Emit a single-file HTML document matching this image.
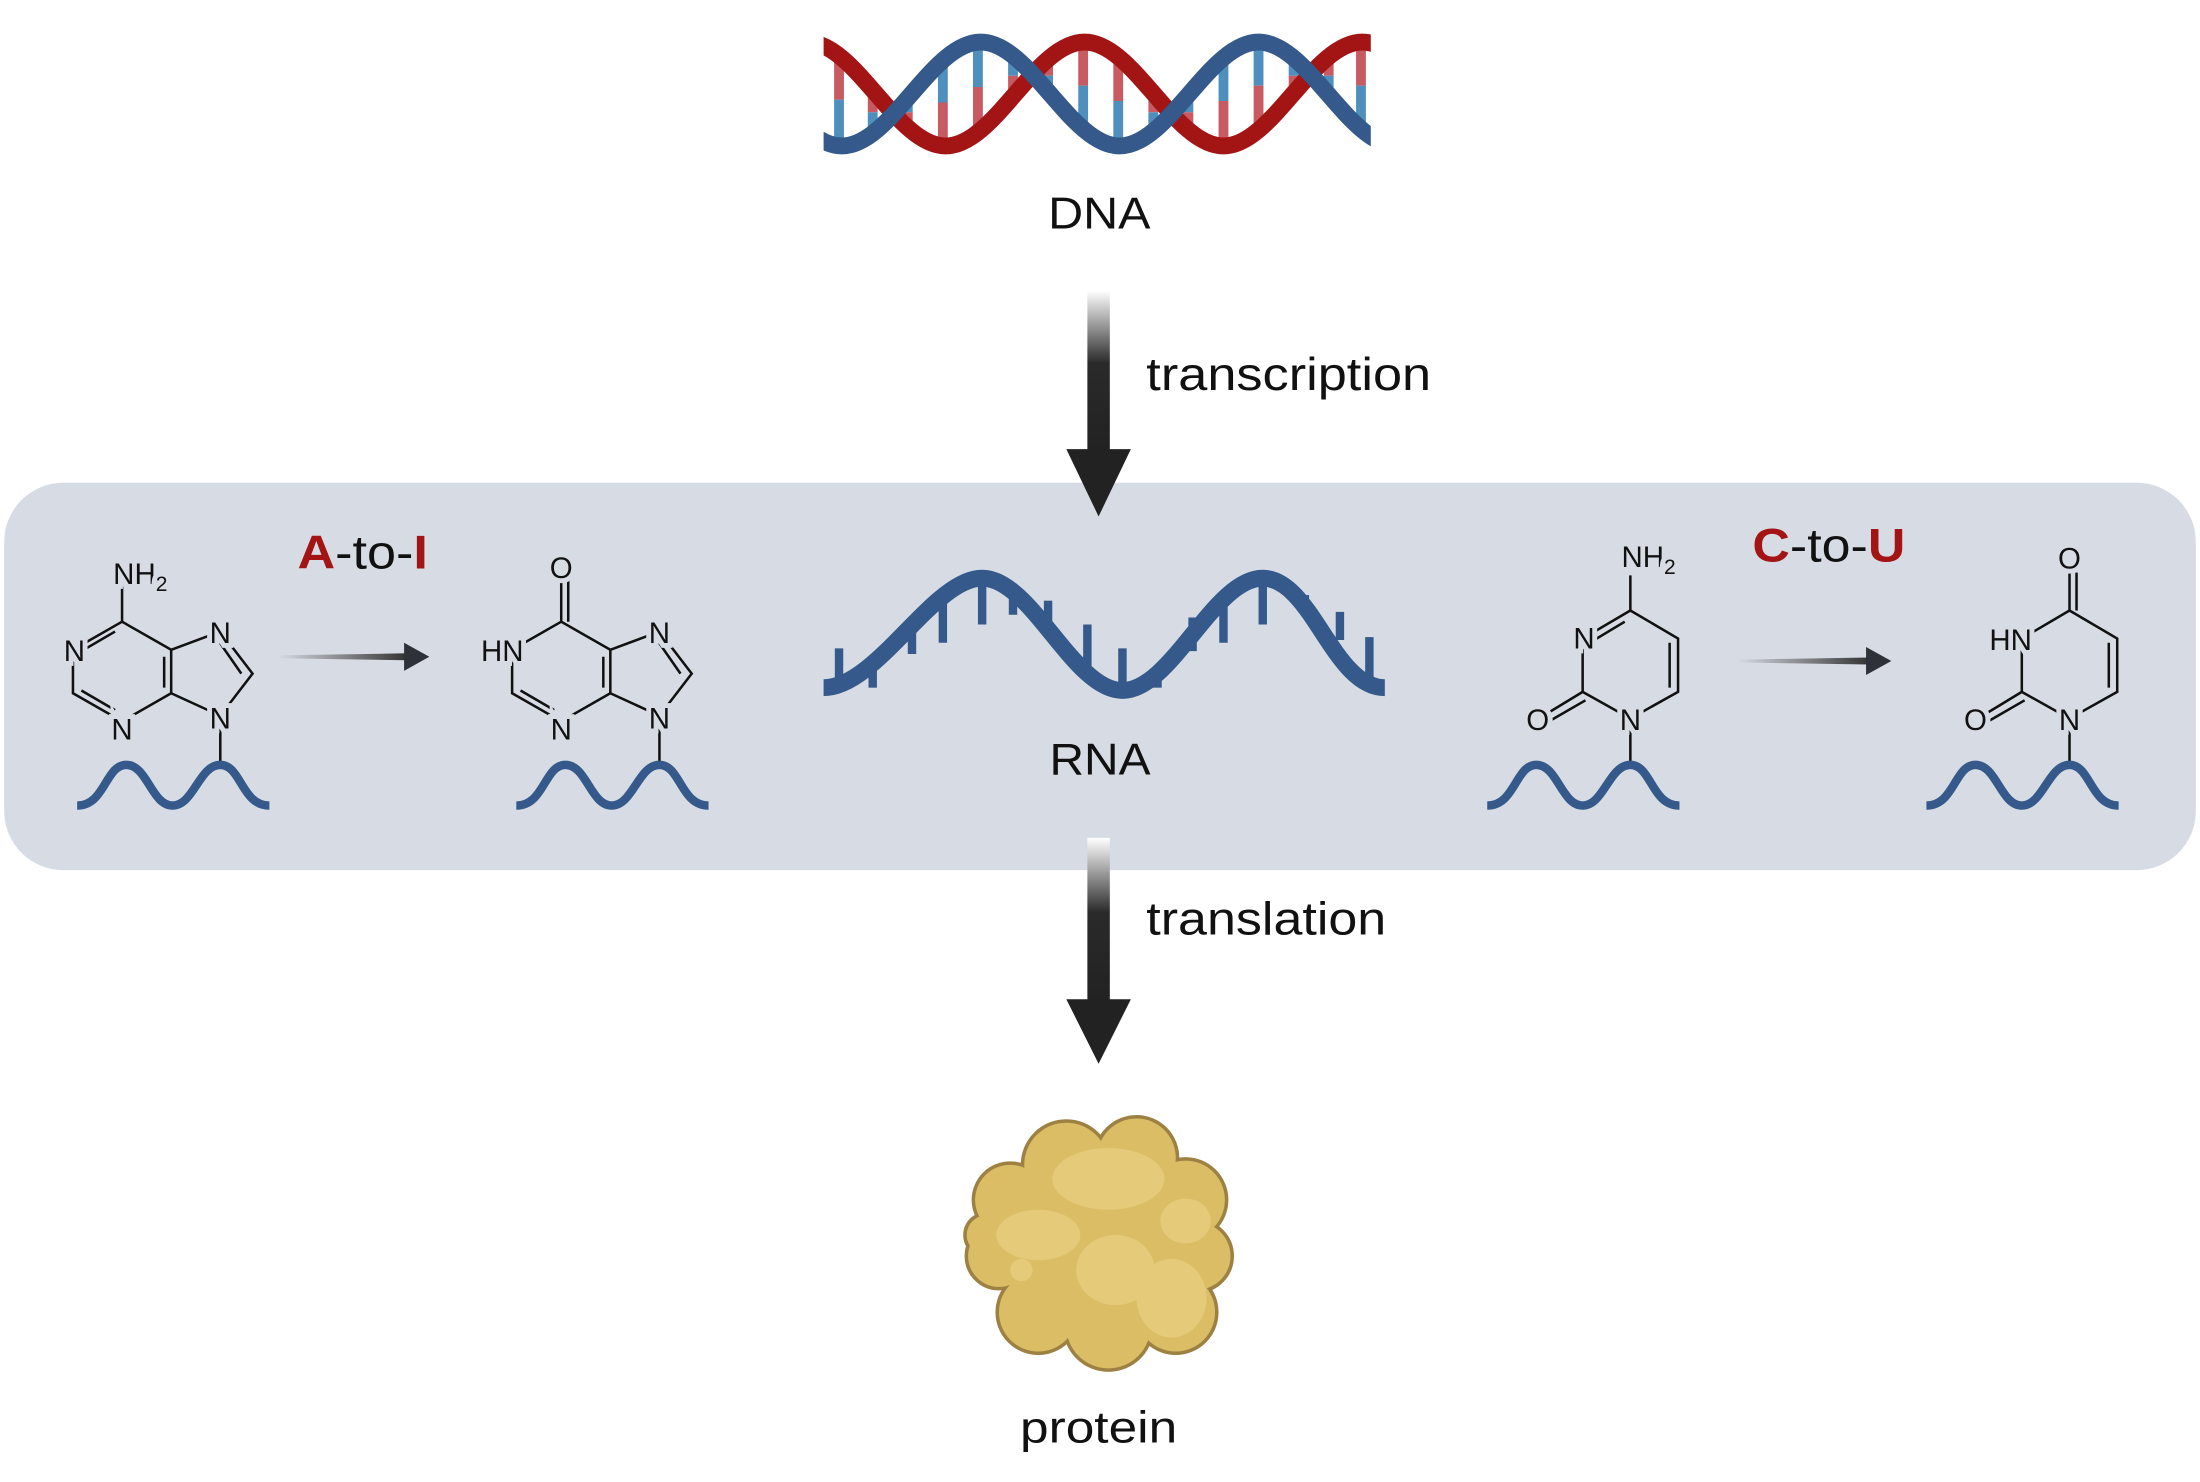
<!DOCTYPE html>
<html><head><meta charset="utf-8"><style>
html,body{margin:0;padding:0;background:#fff;}
svg{display:block}
text{font-family:"Liberation Sans",sans-serif;}
</style></head><body>
<svg width="2200" height="1482" viewBox="0 0 1568 1056" preserveAspectRatio="none" xmlns="http://www.w3.org/2000/svg">
<defs>
<clipPath id="dc"><rect x="587" y="0" width="390" height="140"/></clipPath>
<linearGradient id="ag" x1="0" y1="0" x2="0" y2="1">
<stop offset="0" stop-color="#fff"/><stop offset="0.45" stop-color="#2a2a2a"/><stop offset="1" stop-color="#222"/></linearGradient>
<linearGradient id="sg" x1="0" y1="0" x2="1" y2="0">
<stop offset="0" stop-color="#d7dce4"/><stop offset="1" stop-color="#333"/></linearGradient>
</defs>
<rect width="1568" height="1056" fill="#fff"/>
<rect x="3" y="344" width="1562" height="276" rx="42" fill="#d7dce4"/>

<!-- DNA -->
<g clip-path="url(#dc)">
<g stroke-width="7">
<line x1="598" y1="39" x2="598" y2="71" stroke="#c85a62"/><line x1="598" y1="71" x2="598" y2="104" stroke="#4f8fbd"/>
<line x1="622" y1="63" x2="622" y2="80" stroke="#c85a62"/><line x1="622" y1="80" x2="622" y2="96" stroke="#4f8fbd"/>
<line x1="647" y1="70" x2="647" y2="80" stroke="#4f8fbd"/><line x1="647" y1="80" x2="647" y2="91" stroke="#c85a62"/>
<line x1="672" y1="43" x2="672" y2="73" stroke="#4f8fbd"/><line x1="672" y1="73" x2="672" y2="104" stroke="#c85a62"/>
<line x1="697" y1="30" x2="697" y2="62" stroke="#4f8fbd"/><line x1="697" y1="62" x2="697" y2="95" stroke="#c85a62"/>
<line x1="722" y1="39" x2="722" y2="54" stroke="#4f8fbd"/><line x1="722" y1="54" x2="722" y2="69" stroke="#c85a62"/>
<line x1="747" y1="42" x2="747" y2="54" stroke="#c85a62"/><line x1="747" y1="54" x2="747" y2="65" stroke="#4f8fbd"/>
<line x1="772" y1="30" x2="772" y2="61" stroke="#c85a62"/><line x1="772" y1="61" x2="772" y2="92" stroke="#4f8fbd"/>
<line x1="797" y1="40" x2="797" y2="72" stroke="#c85a62"/><line x1="797" y1="72" x2="797" y2="104" stroke="#4f8fbd"/>
<line x1="822" y1="66" x2="822" y2="80" stroke="#c85a62"/><line x1="822" y1="80" x2="822" y2="93" stroke="#4f8fbd"/>
<line x1="847" y1="67" x2="847" y2="80" stroke="#4f8fbd"/><line x1="847" y1="80" x2="847" y2="93" stroke="#c85a62"/>
<line x1="872" y1="41" x2="872" y2="72" stroke="#4f8fbd"/><line x1="872" y1="72" x2="872" y2="104" stroke="#c85a62"/>
<line x1="897" y1="30" x2="897" y2="61" stroke="#4f8fbd"/><line x1="897" y1="61" x2="897" y2="92" stroke="#c85a62"/>
<line x1="922" y1="42" x2="922" y2="54" stroke="#4f8fbd"/><line x1="922" y1="54" x2="922" y2="66" stroke="#c85a62"/>
<line x1="947" y1="40" x2="947" y2="54" stroke="#c85a62"/><line x1="947" y1="54" x2="947" y2="69" stroke="#4f8fbd"/>
<line x1="970" y1="30" x2="970" y2="61" stroke="#c85a62"/><line x1="970" y1="61" x2="970" y2="93" stroke="#4f8fbd"/>
</g>
<path d="M476,104 C511,104 540,30 575,30 C610,30 639,104 674,104 C709,104 738,30 773,30 C808,30 837,104 872,104 C907,104 936,30 971,30 C1006,30 1035,104 1070,104" fill="none" stroke="#a31515" stroke-width="12"/>
<path d="M501,30 C536,30 565,104 600,104 C635,104 664,30 699,30 C734,30 763,104 798,104 C833,104 862,30 897,30 C932,30 961,104 996,104" fill="none" stroke="#34598a" stroke-width="12"/>
</g>
<text x="747" y="163" font-size="32" textLength="73" lengthAdjust="spacingAndGlyphs" fill="#111">DNA</text>

<rect x="775" y="207" width="16" height="115" fill="url(#ag)"/>
<polygon points="760,320 806,320 783,368" fill="#222"/>
<text x="817" y="278" font-size="33" textLength="203" lengthAdjust="spacingAndGlyphs" fill="#111">transcription</text>

<!-- RNA -->
<g stroke="#34598a" stroke-width="6">
<line x1="598" y1="462" x2="598" y2="490"/>
<line x1="622" y1="476" x2="622" y2="490"/>
<line x1="650" y1="440" x2="650" y2="466"/>
<line x1="672" y1="428" x2="672" y2="458"/>
<line x1="700" y1="412" x2="700" y2="445"/>
<line x1="722" y1="416" x2="722" y2="438"/>
<line x1="747" y1="428" x2="747" y2="446"/>
<line x1="775" y1="445" x2="775" y2="478"/>
<line x1="800" y1="462" x2="800" y2="492"/>
<line x1="825" y1="476" x2="825" y2="490"/>
<line x1="850" y1="440" x2="850" y2="464"/>
<line x1="872" y1="428" x2="872" y2="458"/>
<line x1="900" y1="412" x2="900" y2="445"/>
<line x1="930" y1="424" x2="930" y2="438"/>
<line x1="955" y1="436" x2="955" y2="456"/>
<line x1="976" y1="454" x2="976" y2="492"/>
</g>
<path d="M587,490 C625,490 665,412 700,412 C735,412 765,492 800,492 C835,492 865,412 900,412 C935,412 950,490 987,490" fill="none" stroke="#34598a" stroke-width="12"/>
<text x="748" y="552" font-size="32" textLength="72" lengthAdjust="spacingAndGlyphs" fill="#111">RNA</text>

<rect x="775" y="597" width="16" height="118" fill="url(#ag)"/>
<polygon points="760,712 806,712 783,758" fill="#222"/>
<text x="817" y="666" font-size="33" textLength="171" lengthAdjust="spacingAndGlyphs" fill="#111">translation</text>

<g fill="none" stroke="#111" stroke-width="1.8">
<path d="M87,443 L87,418 M87,443 L52,463 L52,494 L87,514 L122,494 L122,463 Z M122,463 L157,450 L180,480 L157,510 L122,494 M157,510 L157,544"/>
<path d="M82,450 L58,464 M58,492 L82,506 M117,468 L117,490 M172,480 L156,457"/>
<path d="M400,443 L400,413 M405,443 L405,413 M400,443 L365,463 L365,494 L400,514 L435,494 L435,463 Z M435,463 L470,450 L493,480 L470,510 L435,494 M470,510 L470,544"/>
<path d="M371,492 L395,506 M430,468 L430,490 M485,480 L469,457"/>
<path d="M1162,435 L1162,410 M1162,435 L1196,455 L1196,493 L1162,512 L1128,493 L1128,455 Z M1128,493 L1100,510 M1162,512 L1162,545"/>
<path d="M1133,458 L1158,443 M1190,458 L1190,490 M1130,499 L1104,514"/>
<path d="M1475,435 L1475,408 M1480,435 L1480,408 M1475,435 L1509,455 L1509,493 L1475,512 L1441,493 L1441,455 Z M1441,493 L1413,510 M1475,512 L1475,545"/>
<path d="M1503,458 L1503,490 M1443,499 L1417,514"/>
</g>
<g font-size="21" fill="#111" text-anchor="middle" stroke="#d7dce4" stroke-width="7" paint-order="stroke">
<text x="100" y="416">NH<tspan font-size="15" dy="5">2</tspan></text>
<text x="53" y="471">N</text>
<text x="87" y="527">N</text>
<text x="157" y="458">N</text>
<text x="157" y="519">N</text>
<text x="400" y="412">O</text>
<text x="358" y="471">HN</text>
<text x="400" y="527">N</text>
<text x="470" y="458">N</text>
<text x="470" y="519">N</text>
<text x="1175" y="404">NH<tspan font-size="15" dy="5">2</tspan></text>
<text x="1129" y="462">N</text>
<text x="1162" y="520">N</text>
<text x="1096" y="520">O</text>
<text x="1475" y="405">O</text>
<text x="1433" y="463">HN</text>
<text x="1475" y="520">N</text>
<text x="1408" y="520">O</text>
</g>
<g fill="none" stroke="#34598a" stroke-width="6">
<path d="M55,574 C75,574 75,545 90,545 C105,545 108,574 123,574 C138,574 142,545 157,545 C172,545 172,574 192,574"/>
<path d="M368,574 C388,574 388,545 403,545 C418,545 421,574 436,574 C451,574 455,545 470,545 C485,545 485,574 505,574"/>
<path d="M1060,574 C1080,574 1080,545 1095,545 C1110,545 1113,574 1128,574 C1143,574 1147,545 1162,545 C1177,545 1177,574 1197,574"/>
<path d="M1373,574 C1393,574 1393,545 1408,545 C1423,545 1426,574 1441,574 C1456,574 1460,545 1475,545 C1490,545 1490,574 1510,574"/>
</g>
<polygon points="198,467 290,465.5 290,470.5 198,469" fill="url(#sg)"/>
<polygon points="288,458 306,468 288,478" fill="#2e3238"/>
<polygon points="1238,470 1332,468.5 1332,473.5 1238,472" fill="url(#sg)"/>
<polygon points="1330,461 1348,471 1330,481" fill="#2e3238"/>
<text x="212" y="405" font-size="34" textLength="93" lengthAdjust="spacingAndGlyphs" fill="#111"><tspan fill="#a31515" font-weight="bold">A</tspan>-to-<tspan fill="#a31515" font-weight="bold">I</tspan></text>
<text x="1249" y="400" font-size="34" textLength="109" lengthAdjust="spacingAndGlyphs" fill="#111"><tspan fill="#a31515" font-weight="bold">C</tspan>-to-<tspan fill="#a31515" font-weight="bold">U</tspan></text>

<g fill="#dabd65" stroke="#9c8142" stroke-width="5">
<circle cx="760" cy="830" r="30"/><circle cx="810" cy="825" r="28"/><circle cx="845" cy="855" r="28"/>
<circle cx="853" cy="895" r="24"/><circle cx="838" cy="935" r="28"/><circle cx="790" cy="945" r="30"/>
<circle cx="740" cy="935" r="28"/><circle cx="712" cy="895" r="22"/><circle cx="703" cy="880" r="14"/>
<circle cx="720" cy="855" r="25"/><circle cx="785" cy="885" r="60"/>
</g>
<g fill="#dabd65">
<circle cx="760" cy="830" r="30"/><circle cx="810" cy="825" r="28"/><circle cx="845" cy="855" r="28"/>
<circle cx="853" cy="895" r="24"/><circle cx="838" cy="935" r="28"/><circle cx="790" cy="945" r="30"/>
<circle cx="740" cy="935" r="28"/><circle cx="712" cy="895" r="22"/><circle cx="703" cy="880" r="14"/>
<circle cx="720" cy="855" r="25"/><circle cx="785" cy="885" r="60"/>
</g>
<g fill="#e4ca79">
<ellipse cx="790" cy="840" rx="40" ry="22"/><ellipse cx="740" cy="880" rx="30" ry="18"/>
<ellipse cx="795" cy="905" rx="28" ry="25"/><ellipse cx="835" cy="925" rx="25" ry="28"/>
<ellipse cx="845" cy="870" rx="18" ry="16"/><circle cx="728" cy="905" r="8"/>
</g>
<text x="727" y="1028" font-size="32" textLength="112" lengthAdjust="spacingAndGlyphs" fill="#111">protein</text>
</svg>
</body></html>
